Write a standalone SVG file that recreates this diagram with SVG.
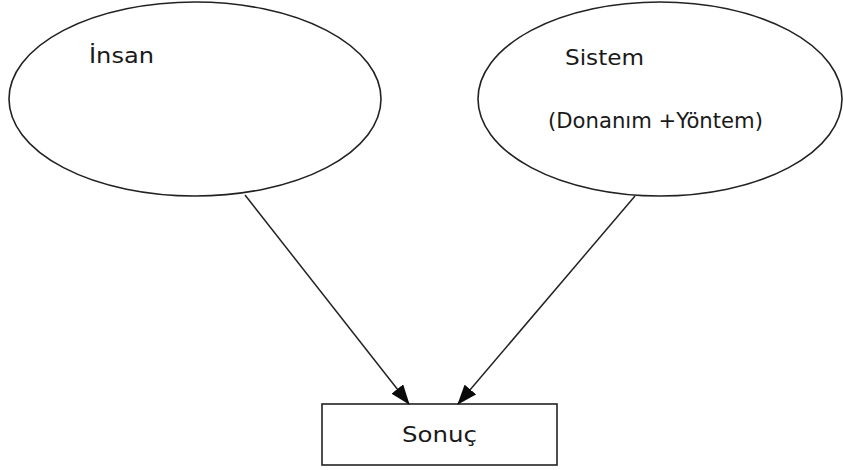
<svg xmlns="http://www.w3.org/2000/svg" width="843" height="470" viewBox="0 0 843 470">
  <style>
    .shape { fill: #ffffff; stroke: #222222; stroke-width: 1.6; }
    .label { font-family: "DejaVu Sans", "Liberation Sans", sans-serif; font-size: 22px; fill: #1a1a1a; }
    .edge { stroke: #222222; stroke-width: 1.5; fill: none; marker-end: url(#arrow); }
  </style>
  <defs>
    <marker id="arrow" markerWidth="20" markerHeight="15" refX="19" refY="7.5" orient="auto" markerUnits="userSpaceOnUse">
      <path d="M0,0 L20,7.5 L0,15 Z" fill="#0a0a0a"/>
    </marker>
  </defs>
  <rect width="843" height="470" fill="#ffffff"/>

  <g id="insan">
    <ellipse class="shape" cx="195" cy="99" rx="186" ry="97"/>
    <text class="label" x="89" y="63" textLength="65" lengthAdjust="spacingAndGlyphs">İnsan</text>
  </g>

  <g id="sistem">
    <ellipse class="shape" cx="660" cy="99" rx="182" ry="97"/>
    <text class="label" x="565" y="65" textLength="79" lengthAdjust="spacingAndGlyphs">Sistem</text>
    <text class="label" x="548" y="128" textLength="215" lengthAdjust="spacingAndGlyphs">(Donanım +Yöntem)</text>
  </g>

  <g id="sonuc">
    <rect class="shape" x="322" y="404" width="235" height="61"/>
    <text class="label" x="402" y="442" textLength="75" lengthAdjust="spacingAndGlyphs">Sonuç</text>
  </g>

  <g id="connectors">
    <line class="edge" x1="245" y1="195" x2="409" y2="404"/>
    <line class="edge" x1="635" y1="196" x2="458" y2="404"/>
  </g>
</svg>
